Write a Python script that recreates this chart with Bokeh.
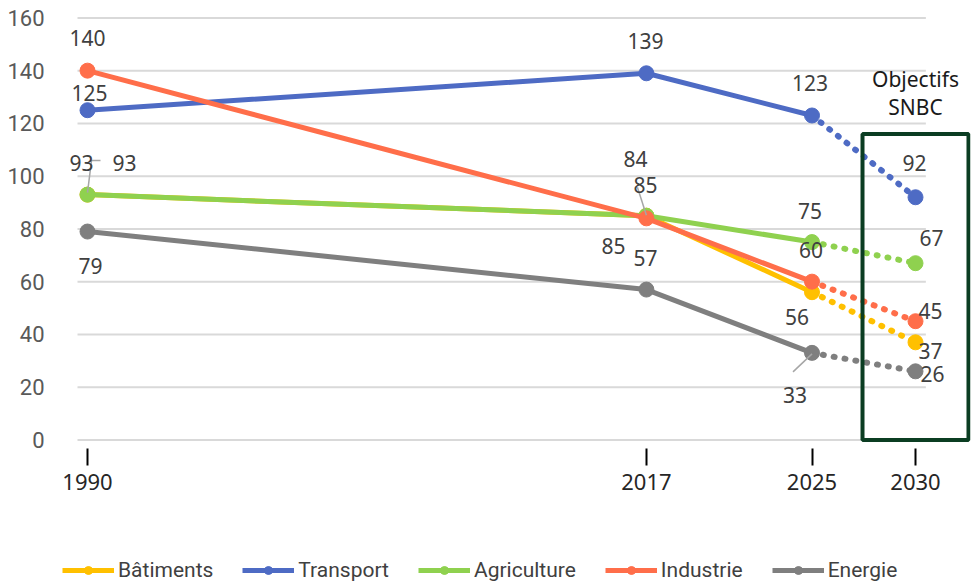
from bokeh.plotting import figure
from bokeh.models import ColumnDataSource, Legend, LegendItem, BoxAnnotation, FixedTicker, Range1d
from bokeh.core.properties import value
from bokeh.embed import file_html
from bokeh.resources import INLINE

# ---------------- data ----------------
years = [1990, 2017, 2025, 2030]
series_names = ["Bâtiments", "Transport", "Agriculture", "Industrie", "Energie"]
batiments = [93, 85, 56, 37]
transport = [125, 139, 123, 92]
agriculture = [93, 85, 75, 67]
industrie = [140, 84, 60, 45]
energie = [79, 57, 33, 26]
y_ticks = [0, 20, 40, 60, 80, 100, 120, 140, 160]
objective_lines = ["Objectifs", "SNBC"]

# ---------------- style ----------------
series_values = [batiments, transport, agriculture, industrie, energie]
colors = ["#FFC000", "#4E6BC4", "#8FD14F", "#FF6E4A", "#7F7F7F"]
# label offsets in screen px (dx, dy; dy positive = down)
label_offsets = [
    [(-6, -32), (-33, 30), (-15, 25), (15, 9)],
    [(2, -17), (-1, -32), (-2, -32), (-1, -34)],
    [(37, -32), (-1, -31), (-2, -31), (16, -25)],
    [(0, -33), (-11, -59), (-1, -32), (15, -10)],
    [(3, 34), (-1, -32), (-17, 42), (17, 3)],
]

W, H = 971, 585
BL, BR, BT, BB = 60, 1, 8, 0
PXX = 20.7      # px per year
PXY = 2.6375    # px per unit
X0 = 1990 - 27 / PXX
X1 = X0 + (W - BL - BR) / PXX
Y0 = -(585 - 439.4) / PXY
Y1 = Y0 + (H - BT - BB) / PXY
GRID_X0 = 1990 - 10 / PXX
GRID_X1 = 2030.5

p = figure(width=W, height=H, output_backend="svg", toolbar_location=None,
           x_range=Range1d(X0, X1), y_range=Range1d(Y0, Y1),
           min_border_left=BL, min_border_right=BR, min_border_top=BT, min_border_bottom=BB)
p.outline_line_color = None
p.background_fill_color = "white"
p.border_fill_color = "white"
p.xgrid.visible = False
p.ygrid.visible = False

# gridlines
p.segment(x0=[GRID_X0] * len(y_ticks), x1=[GRID_X1] * len(y_ticks), y0=y_ticks, y1=y_ticks,
          line_color="#D9D9D9", line_width=2)

# axes
p.yaxis.ticker = FixedTicker(ticks=y_ticks)
p.yaxis.axis_line_color = None
p.yaxis.major_tick_line_color = None
p.yaxis.minor_tick_line_color = None
p.yaxis.major_label_standoff = 10
p.yaxis.major_label_text_font = "Roboto"
p.yaxis.major_label_text_font_size = "22px"
p.yaxis.major_label_text_color = "#595959"

p.xaxis.fixed_location = -1
p.xaxis.ticker = FixedTicker(ticks=years)
p.xaxis.axis_line_color = None
p.xaxis.minor_tick_line_color = None
p.xaxis.major_tick_line_color = "#000000"
p.xaxis.major_tick_line_width = 2
p.xaxis.major_tick_in = -6
p.xaxis.major_tick_out = 23
p.xaxis.major_label_standoff = 8
p.xaxis.major_label_text_font = "Noto Sans"
p.xaxis.major_label_text_font_size = "22px"
p.xaxis.major_label_text_color = "#262626"

# objectives box
box_left, box_right, box_top = 2027.44, 2032.56, 116
p.add_layout(BoxAnnotation(left=box_left, right=box_right, bottom=0, top=box_top,
                           fill_alpha=0, line_color="#0B3D22", line_alpha=1, line_width=4))
p.text(x=[years[-1]] * 2, y=[box_top] * 2, text=objective_lines, text_align="center",
       text_baseline="middle", y_offset=[-55, -27], text_font=value("Noto Sans"),
       text_font_size="21px", text_color="#1a1a1a")

legend_items = []
for name, vals, col in zip(series_names, series_values, colors):
    src_solid = ColumnDataSource(dict(x=years[:3], y=vals[:3]))
    src_dot = ColumnDataSource(dict(x=years[2:], y=vals[2:]))
    r_line = p.line("x", "y", source=src_solid, line_color=col, line_width=5, line_join="round")
    p.line("x", "y", source=src_dot, line_color=col, line_width=6, line_dash="1 10", line_cap="round")
    r_pts = p.scatter(years, vals, marker="circle", size=15, fill_color=col, line_color=col)
    legend_items.append(LegendItem(label=name, renderers=[r_line, r_pts]))

# leader lines (gray)
leaders = [  # (series index, year index, [(dx, dy) path in px from the point])
    (0, 0, [(0, -2), (4, -34), (13, -34)]),
    (3, 1, [(0, -3), (-9, -31)]),
    (4, 2, [(0, 1), (-19, 19)]),
]
for si, yi, path in leaders:
    xs = [years[yi] + dx / PXX for dx, dy in path]
    ys = [series_values[si][yi] - dy / PXY for dx, dy in path]
    p.line(xs, ys, line_color="#A6A6A6", line_width=1.5)

# data labels
for vals, offs in zip(series_values, label_offsets):
    src = ColumnDataSource(dict(x=years, y=vals, t=[str(v) for v in vals],
                                dx=[o[0] for o in offs], dy=[o[1] for o in offs]))
    p.text("x", "y", text="t", source=src, x_offset="dx", y_offset="dy",
           text_align="center", text_baseline="middle", text_font=value("Noto Sans"),
           text_font_size="21px", text_color="#404040")

legend = Legend(items=legend_items, location=(2, 3), orientation="horizontal",
                glyph_width=52, glyph_height=20, label_standoff=4, spacing=29,
                padding=0, margin=0, border_line_color=None, background_fill_alpha=0,
                label_text_font="Roboto", label_text_font_size="21px",
                label_text_color="#404040")
p.add_layout(legend)

open("out.html", "w").write(file_html(p, INLINE))
